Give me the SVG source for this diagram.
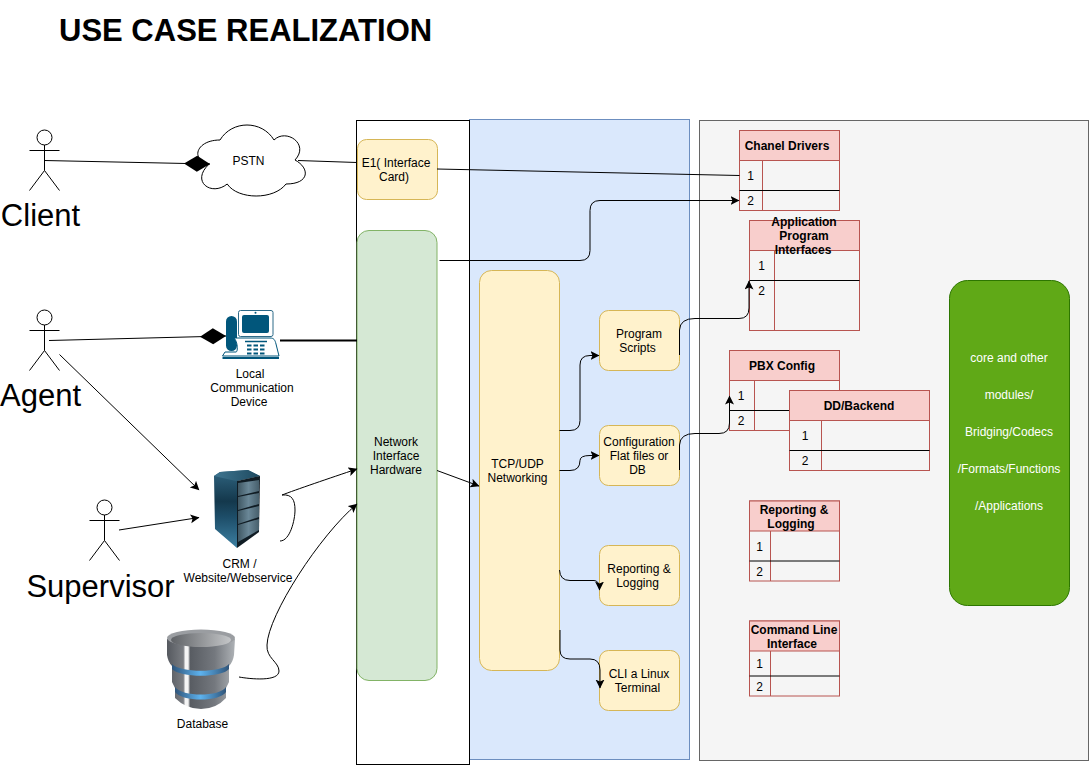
<svg xmlns="http://www.w3.org/2000/svg" width="1090" height="765" viewBox="0 0 1090 765">
<style>
text{font-family:"Liberation Sans",Arial,sans-serif;fill:#000}
.t12{font-size:12px;text-anchor:middle}
.w12{font-size:12px;text-anchor:middle;fill:#fff}
.b12{font-size:12px;font-weight:bold;text-anchor:middle}
.big{font-size:31px;text-anchor:middle}
.y{fill:#fff2cc;stroke:#d6b656}
.tb{fill:none;stroke:#b85450}
.hd{fill:#f8cecc;stroke:#b85450}
.sep{fill:none;stroke:#000}
.act{fill:#fff;stroke:#000;stroke-width:1}
.actl{fill:none;stroke:#000;stroke-width:1}
.c{fill:none;stroke:#000;stroke-width:1}
.ca{fill:none;stroke:#000;stroke-width:1;marker-end:url(#a)}
.cd{fill:none;stroke:#000;stroke-width:1;marker-end:url(#d)}
</style>
<defs>
<marker id="a" markerUnits="userSpaceOnUse" markerWidth="10" markerHeight="10" refX="8.500" refY="4.500" orient="auto"><path d="M0 0L9 4.500L0 9L2 4.500Z" fill="#000"/></marker>
<marker id="d" markerUnits="userSpaceOnUse" markerWidth="28" markerHeight="17" refX="26" refY="8" orient="auto"><path d="M0 8L13 0L26 8L13 16Z" fill="#000"/></marker>
<linearGradient id="srv" x1="0" x2="0" y1="0" y2="1"><stop offset="0" stop-color="#2f6480"/><stop offset=".4" stop-color="#14384c"/><stop offset=".6" stop-color="#1d4d68"/><stop offset="1" stop-color="#3d80a2"/></linearGradient>
<linearGradient id="srvt" x1="0" x2="1" y1="0" y2="0"><stop offset="0" stop-color="#3f7590"/><stop offset="1" stop-color="#1e4a60"/></linearGradient>
<linearGradient id="bay" x1="0" x2="1" y1="0" y2="0"><stop offset="0" stop-color="#3f5763"/><stop offset=".5" stop-color="#6a8797"/><stop offset="1" stop-color="#475f6c"/></linearGradient>
<linearGradient id="dbg" x1="0" x2="1" y1="0" y2="0"><stop offset="0" stop-color="#55595f"/><stop offset=".24" stop-color="#7a7d82"/><stop offset=".27" stop-color="#f4f4f4"/><stop offset=".31" stop-color="#f4f4f4"/><stop offset=".34" stop-color="#585c62"/><stop offset=".7" stop-color="#74787e"/><stop offset="1" stop-color="#aeb2b6"/></linearGradient>
<linearGradient id="dbt" x1="0" x2="1" y1="0" y2="0"><stop offset="0" stop-color="#5f6266"/><stop offset="1" stop-color="#c4c6c8"/></linearGradient>
<linearGradient id="dbb" x1="0" x2="1" y1="0" y2="0"><stop offset="0" stop-color="#30557a"/><stop offset=".5" stop-color="#5db2ee"/><stop offset="1" stop-color="#30557a"/></linearGradient>
</defs>

<text id="title" x="59" y="41" font-size="31" font-weight="bold">USE CASE REALIZATION</text>

<g id="panel-blue"><rect x="469.500" y="119.500" width="220" height="640" fill="#dae8fc" stroke="#6c8ebf"/></g>
<g id="panel-gray"><rect x="699.500" y="120.500" width="389" height="640" fill="#f5f5f5" stroke="#666"/></g>
<g id="panel-white"><rect x="356.500" y="120.500" width="113" height="644" fill="#fff" stroke="#000"/></g>

<g id="actor-client">
<circle class="act" cx="44.500" cy="137.500" r="7.500"/>
<path class="actl" d="M44.500 145V170.500M29.500 150.500H59.500M44.500 170.500L29.500 190.500M44.500 170.500L59.500 190.500"/>
<text class="big" x="40.500" y="226">Client</text>
</g>
<g id="actor-agent">
<circle class="act" cx="44.500" cy="317.500" r="7.500"/>
<path class="actl" d="M44.500 325V350.500M29.500 330.500H59.500M44.500 350.500L29.500 370.500M44.500 350.500L59.500 370.500"/>
<text class="big" x="40.500" y="406">Agent</text>
</g>
<g id="actor-supervisor">
<circle class="act" cx="104.500" cy="507.500" r="7.500"/>
<path class="actl" d="M104.500 515V540.500M89.500 520.500H119.500M104.500 540.500L89.500 560.500M104.500 540.500L119.500 560.500"/>
<text class="big" x="100.500" y="597">Supervisor</text>
</g>

<g id="cloud-pstn">
<path d="M220 140C196 140 190 160 209.200 164C190 181.600 211.600 196.800 227.200 184C238 200 274 200 286 184C310 184 310 168 295 160C310 144 286 128 274 140C262 120 232 120 220 140Z" fill="#fff" stroke="#000"/>
<text class="t12" x="248.500" y="165">PSTN</text>
</g>

<g id="device-phone">
<rect x="238.500" y="310.500" width="34.500" height="26" rx="2" fill="#fff" stroke="#2d6a88"/>
<rect x="242" y="315" width="27" height="18" rx="2" fill="#01567b"/>
<circle cx="255.500" cy="312.800" r="1" fill="#01567b"/>
<rect x="226" y="316" width="11" height="35" rx="5.500" fill="#01567b"/>
<path d="M234 338H270C274 338 275 340 276 344L279 356H222.500L225 352H236C238 352 238 342 234 338Z" fill="#fff" stroke="#01567b"/>
<path d="M222.500 358H279" stroke="#01567b" stroke-width="2" fill="none"/>
<path d="M245 341.500H267" stroke="#01567b" stroke-width="1.500"/>
<path d="M247 345.500H265M247 349.500H265M247 353.500H265" stroke="#01567b" stroke-width="2" stroke-dasharray="4.500 2"/>
<text class="t12" x="250" y="378">Local</text>
<text class="t12" x="252" y="392">Communication</text>
<text class="t12" x="249" y="406">Device</text>
</g>

<g id="device-crm">
<path d="M214 476L220 472L248 470L260 476L237 481V548L215 529Z" fill="url(#srv)"/>
<path d="M214 476L220 472L248 470L260 476L236 481Z" fill="url(#srvt)"/>
<path d="M237 481L260 476L259 532L237 548Z" fill="#101c24"/>
<path d="M238 483L259 480V491L238 496ZM238 497L259 493V504L238 510ZM238 511L259 506V517L238 524ZM238 525L259 519V530L238 542Z" fill="url(#bay)"/>
<text class="t12" x="239.500" y="568">CRM /</text>
<text class="t12" x="238" y="582">Website/Webservice</text>
</g>

<g id="device-database">
<path d="M167 639V655Q168 662 172 666V682L175 688V698Q186 709 201 709Q216 709 226 698V688L229 682V666Q233 662 234 655L235 639Z" fill="url(#dbg)"/>
<ellipse cx="201" cy="638" rx="34" ry="8.500" fill="#9a9da1"/>
<ellipse cx="201" cy="640" rx="30" ry="7" fill="url(#dbt)"/>
<path d="M172 664C180 673 222 673 229 664L229 669C222 678 180 678 172 669Z" fill="url(#dbb)"/>
<path d="M175 687C182 697 220 697 226 687L226 692C220 702 182 702 175 692Z" fill="url(#dbb)"/>
<text class="t12" x="202.500" y="728">Database</text>
</g>

<g id="node-e1">
<rect class="y" x="357.500" y="139.500" width="80" height="60" rx="9"/>
<text class="t12" x="396" y="167">E1( Interface</text>
<text class="t12" x="394" y="181">Card)</text>
</g>
<g id="node-nih">
<rect x="357" y="230.500" width="80" height="450" rx="12" fill="#d5e8d4" stroke="#82b366"/>
<text class="t12" x="396" y="446">Network</text>
<text class="t12" x="396" y="460">Interface</text>
<text class="t12" x="396" y="474">Hardware</text>
</g>
<g id="node-tcp">
<rect class="y" x="479.500" y="270.500" width="80" height="400" rx="12"/>
<text class="t12" x="517.500" y="468">TCP/UDP</text>
<text class="t12" x="517.500" y="482">Networking</text>
</g>
<g id="node-scripts">
<rect class="y" x="599.500" y="310.500" width="80" height="60" rx="9"/>
<text class="t12" x="639" y="338">Program</text>
<text class="t12" x="637.500" y="352">Scripts</text>
</g>
<g id="node-config">
<rect class="y" x="599.500" y="425.500" width="80" height="60" rx="9"/>
<text class="t12" x="639" y="446">Configuration</text>
<text class="t12" x="639" y="460">Flat files or</text>
<text class="t12" x="637.500" y="474">DB</text>
</g>
<g id="node-reporting">
<rect class="y" x="599.500" y="545.500" width="80" height="60" rx="9"/>
<text class="t12" x="639" y="573">Reporting &amp;</text>
<text class="t12" x="637.500" y="587">Logging</text>
</g>
<g id="node-cli">
<rect class="y" x="599.500" y="650.500" width="80" height="60" rx="9"/>
<text class="t12" x="639" y="678">CLI a Linux</text>
<text class="t12" x="637.500" y="692">Terminal</text>
</g>

<g id="table-chanel">
<rect x="739.500" y="130.500" width="100" height="80" fill="#f5f5f5" stroke="#b85450"/>
<rect class="hd" x="739.500" y="130.500" width="100" height="30"/>
<path class="tb" d="M762.500 160.500V210.500"/>
<path class="sep" d="M739.500 190.500H839.500"/>
<text class="b12" x="787" y="150">Chanel Drivers</text>
<text class="t12" x="750.500" y="180">1</text>
<text class="t12" x="750.500" y="205">2</text>
</g>
<g id="table-api">
<rect x="749.500" y="220.500" width="110" height="110" fill="#f5f5f5" stroke="#b85450"/>
<rect class="hd" x="749.500" y="220.500" width="110" height="30"/>
<path class="tb" d="M774.500 250.500V330.500"/>
<path class="sep" d="M749.500 280.500H859.500"/>
<text class="b12" x="804" y="226">Application</text>
<text class="b12" x="804" y="240">Program</text>
<text class="b12" x="803" y="254">Interfaces</text>
<text class="t12" x="761.500" y="270">1</text>
<text class="t12" x="761.500" y="295">2</text>
</g>
<g id="table-pbx">
<rect x="729.500" y="350.500" width="110" height="80" fill="#f5f5f5" stroke="#b85450"/>
<rect class="hd" x="729.500" y="350.500" width="110" height="30"/>
<path class="tb" d="M754.500 380.500V430.500"/>
<path class="sep" d="M729.500 410.500H839.500"/>
<text class="b12" x="782" y="370">PBX Config</text>
<text class="t12" x="741" y="400">1</text>
<text class="t12" x="741" y="425">2</text>
</g>
<g id="table-dd">
<rect x="789.500" y="390.500" width="140" height="80" fill="#f5f5f5" stroke="#b85450"/>
<rect class="hd" x="789.500" y="390.500" width="140" height="30"/>
<path class="tb" d="M821.500 420.500V470.500"/>
<path class="sep" d="M789.500 450.500H929.500"/>
<text class="b12" x="859" y="410">DD/Backend</text>
<text class="t12" x="805" y="440">1</text>
<text class="t12" x="805" y="465">2</text>
</g>
<g id="table-reporting">
<rect x="749.500" y="501" width="90" height="80" fill="#f5f5f5" stroke="#b85450"/>
<rect class="hd" x="749.500" y="501" width="90" height="30"/>
<path class="tb" d="M770.500 531V581"/>
<path class="sep" d="M749.500 561H839.500"/>
<text class="b12" x="794" y="514">Reporting &amp;</text>
<text class="b12" x="791" y="528">Logging</text>
<text class="t12" x="759.500" y="551">1</text>
<text class="t12" x="759.500" y="576">2</text>
</g>
<g id="table-cli">
<rect x="749.500" y="621" width="90" height="75" fill="#f5f5f5" stroke="#b85450"/>
<rect class="hd" x="749.500" y="621" width="90" height="30"/>
<path class="tb" d="M770.500 651V696"/>
<path class="sep" d="M749.500 676H839.500"/>
<text class="b12" x="794" y="634">Command Line</text>
<text class="b12" x="792" y="648">Interface</text>
<text class="t12" x="759.500" y="668">1</text>
<text class="t12" x="759.500" y="691">2</text>
</g>

<g id="node-core">
<rect x="949.500" y="280.500" width="120" height="325" rx="18" fill="#60a917" stroke="#2d7600"/>
<text class="w12" x="1009" y="362">core and other</text>
<text class="w12" x="1009" y="399">modules/</text>
<text class="w12" x="1009" y="436">Bridging/Codecs</text>
<text class="w12" x="1009" y="473">/Formats/Functions</text>
<text class="w12" x="1009" y="510">/Applications</text>
</g>

<g id="connectors">
<path class="cd" d="M44.500 160.500L210 164"/>
<path class="cd" d="M49 340.500L226 336"/>
<path class="c" d="M298 160.500L357 162.500"/>
<path class="c" d="M437 169L739.500 175.500"/>
<path class="c" style="stroke-width:2" d="M280 340.500H357"/>
<path class="ca" d="M439.500 260.500H580Q590 260.500 590 250.500V210.500Q590 200.500 600 200.500H739"/>
<path class="ca" d="M59.500 354.500L199 490"/>
<path class="ca" d="M119 530L199 517.500"/>
<path class="ca" d="M280 541C290 541 295 520 295 510C295 500 292 494 282 495C295 490 330 478 357 469"/>
<path class="ca" d="M239 677C250 679 279 682 279 671C279 662 266 658 267 645C268 615 320 535 357 504"/>
<path class="ca" d="M437 470.500L479 486"/>
<path class="ca" d="M559.500 430.500H570Q580 430.500 580 420.500V365Q580 355.500 590 355.500H599"/>
<path class="ca" d="M559.500 470.500H570Q580 470.500 580 460.500Q580 455.500 590 455.500H599"/>
<path class="ca" d="M559.500 570Q560 580.500 570 580.500H594Q599.500 580.500 599.500 590"/>
<path class="ca" d="M560 630V650Q560 659 570 659H590Q600 659 600 670V688"/>
<path class="ca" d="M679.500 355V330Q680 318.500 695 318.500H739Q749 318.500 749 308V281"/>
<path class="ca" d="M679.500 470V445Q680 433.500 695 433.500H719Q729.500 433.500 729.500 423V396"/>
</g>
</svg>
